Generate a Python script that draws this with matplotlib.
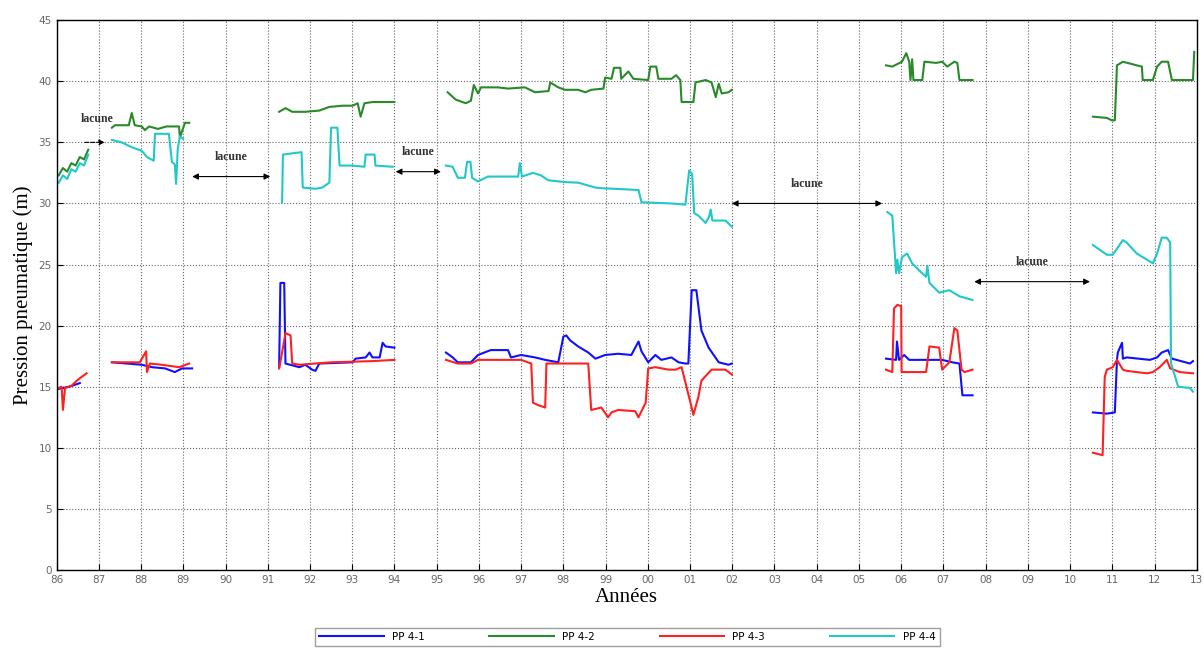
import numpy as np
import matplotlib
matplotlib.use("Agg")
import matplotlib.pyplot as plt

nan = np.nan

# PP 4-1 (blue)
pp41_t = [1986.00, 1986.30, 1986.55, nan,
          1987.31, 1988.02, 1988.26, 1988.57, 1988.80, 1988.97, 1989.21, nan,
          1991.27, 1991.30, 1991.39, 1991.42, 1991.75, 1991.89, 1992.05, 1992.13, 1992.22, 1993.01,
          1993.08, 1993.32, 1993.41, 1993.48, 1993.65, 1993.72, 1993.79, 1994.00, nan,
          1995.22, 1995.38, 1995.50, 1995.81, 1995.98, 1996.28, 1996.69, 1996.76, 1997.00, 1997.33,
          1997.57, 1997.88, 1998.00, 1998.07, 1998.16, 1998.35, 1998.59, 1998.76, 1998.99, 1999.30,
          1999.61, 1999.78, 1999.85, 2000.01, 2000.18, 2000.32, 2000.56, 2000.73, 2000.89, 2000.96,
          2001.04, 2001.15, 2001.27, 2001.44, 2001.68, 2001.91, 2001.99, nan,
          2005.64, 2005.88, 2005.90, 2005.95, 2006.07, 2006.19, 2006.97, 2007.21, 2007.38, 2007.45,
          2007.69, nan,
          2010.54, 2010.87, 2011.06, 2011.11, 2011.13, 2011.23, 2011.25, 2011.34, 2011.89, 2012.06,
          2012.17, 2012.32, 2012.41, 2012.84, 2012.91]
pp41_v = [14.8, 15.0, 15.3, nan,
          17.0, 16.8, 16.6, 16.5, 16.2, 16.5, 16.5, nan,
          16.6, 23.5, 23.5, 16.9, 16.6, 16.8, 16.4, 16.3, 16.9, 17.0,
          17.3, 17.4, 17.8, 17.4, 17.4, 18.6, 18.3, 18.2, nan,
          17.8, 17.4, 17.0, 17.0, 17.6, 18.0, 18.0, 17.4, 17.6, 17.4,
          17.2, 17.0, 19.1, 19.2, 18.8, 18.3, 17.8, 17.3, 17.6, 17.7,
          17.6, 18.7, 17.9, 17.0, 17.6, 17.2, 17.4, 17.0, 16.9, 16.9,
          22.9, 22.9, 19.6, 18.2, 17.0, 16.8, 16.9, nan,
          17.3, 17.2, 18.7, 17.2, 17.6, 17.2, 17.2, 17.0, 16.9, 14.3,
          14.3, nan,
          12.9, 12.8, 12.9, 17.2, 17.8, 18.6, 17.3, 17.4, 17.2, 17.4,
          17.8, 18.0, 17.3, 16.9, 17.1]

# PP 4-2 (green)
pp42_t = [1986.05, 1986.15, 1986.25, 1986.35, 1986.45, 1986.55, 1986.65, 1986.75, nan,
          1987.31, 1987.38, 1987.71, 1987.78, 1987.85, 1988.02, 1988.09, 1988.19, 1988.40, 1988.60,
          1988.90, 1988.92, 1989.04, 1989.14, nan,
          1991.27, 1991.42, 1991.58, 1991.89, 1992.22, 1992.46, 1992.77, 1993.01, 1993.13, 1993.20,
          1993.29, 1993.48, 1994.00, nan,
          1995.26, 1995.45, 1995.69, 1995.81, 1995.88, 1995.98, 1996.05, 1996.45, 1996.69, 1997.09,
          1997.33, 1997.65, 1997.69, 1997.88, 1998.04, 1998.35, 1998.52, 1998.66, 1998.95, 1998.99,
          1999.14, 1999.20, 1999.35, 1999.37, 1999.54, 1999.66, 2000.01, 2000.06, 2000.20, 2000.25,
          2000.56, 2000.67, 2000.77, 2000.80, 2001.08, 2001.13, 2001.37, 2001.51, 2001.61, 2001.68,
          2001.75, 2001.91, 2001.99, nan,
          2005.64, 2005.79, 2006.02, 2006.12, 2006.19, 2006.22, 2006.26, 2006.29, 2006.50, 2006.55,
          2006.83, 2006.97, 2007.09, 2007.26, 2007.33, 2007.38, 2007.69, nan,
          2010.54, 2010.87, 2010.99, 2011.06, 2011.11, 2011.25, 2011.58, 2011.70, 2011.72, 2011.96,
          2012.06, 2012.17, 2012.32, 2012.41, 2012.91, 2012.94]
pp42_v = [32.3, 32.9, 32.6, 33.3, 33.1, 33.8, 33.6, 34.4, nan,
          36.2, 36.4, 36.4, 37.4, 36.4, 36.3, 36.0, 36.3, 36.1, 36.3,
          36.3, 35.4, 36.6, 36.6, nan,
          37.5, 37.8, 37.5, 37.5, 37.6, 37.9, 38.0, 38.0, 38.2, 37.1,
          38.2, 38.3, 38.3, nan,
          39.1, 38.5, 38.2, 38.4, 39.7, 39.0, 39.5, 39.5, 39.4, 39.5,
          39.1, 39.2, 39.9, 39.5, 39.3, 39.3, 39.1, 39.3, 39.4, 40.3,
          40.2, 41.1, 41.1, 40.2, 40.8, 40.2, 40.1, 41.2, 41.2, 40.2,
          40.2, 40.5, 40.1, 38.3, 38.3, 39.9, 40.1, 39.9, 38.7, 39.8,
          39.0, 39.1, 39.3, nan,
          41.3, 41.2, 41.6, 42.3, 41.6, 40.1, 41.8, 40.1, 40.1, 41.6,
          41.5, 41.6, 41.2, 41.6, 41.5, 40.1, 40.1, nan,
          37.1, 37.0, 36.8, 36.8, 41.3, 41.6, 41.3, 41.2, 40.1, 40.1,
          41.2, 41.6, 41.6, 40.1, 40.1, 42.4]

# PP 4-3 (red)
pp43_t = [1986.05, 1986.12, 1986.15, 1986.20, 1986.36, 1986.48, 1986.59, 1986.71, nan,
          1987.31, 1987.97, 1988.12, 1988.14, 1988.21, 1988.49, 1988.90, 1989.14, nan,
          1991.27, 1991.34, 1991.42, 1991.54, 1991.58, 1991.75, 1992.50, 1993.50, 1994.00, nan,
          1995.22, 1995.50, 1995.81, 1995.98, 1997.00, 1997.24, 1997.28, 1997.40, 1997.57, 1997.60,
          1998.59, 1998.66, 1998.90, 1999.06, 1999.14, 1999.30, 1999.70, 1999.78, 1999.95, 2000.01,
          2000.18, 2000.49, 2000.66, 2000.80, 2001.01, 2001.08, 2001.20, 2001.27, 2001.51, 2001.84,
          2001.99, nan,
          2005.64, 2005.79, 2005.83, 2005.91, 2006.00, 2006.01, 2006.26, 2006.59, 2006.67, 2006.90,
          2006.97, 2007.14, 2007.26, 2007.33, 2007.43, 2007.50, 2007.69, nan,
          2010.54, 2010.77, 2010.82, 2010.87, 2011.01, 2011.11, 2011.25, 2011.34, 2011.82, 2011.96,
          2012.12, 2012.29, 2012.37, 2012.60, 2012.91]
pp43_v = [14.9, 15.0, 13.1, 14.9, 15.1, 15.5, 15.8, 16.1, nan,
          17.0, 17.0, 17.9, 16.2, 16.9, 16.8, 16.6, 16.9, nan,
          16.5, 17.8, 19.4, 19.2, 16.9, 16.8, 17.0, 17.1, 17.2, nan,
          17.2, 16.9, 16.9, 17.2, 17.2, 16.9, 13.7, 13.5, 13.3, 16.9,
          16.9, 13.1, 13.3, 12.5, 12.9, 13.1, 13.0, 12.5, 13.7, 16.5,
          16.6, 16.4, 16.4, 16.6, 13.7, 12.7, 14.2, 15.5, 16.4, 16.4,
          16.0, nan,
          16.4, 16.2, 21.4, 21.7, 21.6, 16.2, 16.2, 16.2, 18.3, 18.2,
          16.4, 17.0, 19.8, 19.6, 16.4, 16.2, 16.4, nan,
          9.6, 9.4, 15.8, 16.4, 16.6, 17.2, 16.4, 16.3, 16.1, 16.2,
          16.6, 17.2, 16.5, 16.2, 16.1]

# PP 4-4 (cyan)
pp44_t = [1986.05, 1986.15, 1986.25, 1986.35, 1986.45, 1986.55, 1986.65, 1986.75, nan,
          1987.31, 1987.54, 1987.78, 1988.02, 1988.14, 1988.30, 1988.33, 1988.66, 1988.73, 1988.80,
          1988.83, 1988.87, 1988.92, 1988.99, nan,
          1991.34, 1991.36, 1991.80, 1991.83, 1992.13, 1992.29, 1992.46, 1992.50, 1992.65, 1992.70,
          1993.01, 1993.29, 1993.32, 1993.53, 1993.55, 1993.96, nan,
          1995.22, 1995.38, 1995.50, 1995.67, 1995.72, 1995.80, 1995.84, 1995.98, 1996.21, 1996.93,
          1996.97, 1997.02, 1997.28, 1997.47, 1997.64, 1998.04, 1998.35, 1998.76, 1998.90, 1999.78,
          1999.85, 2000.56, 2000.89, 2000.98, 2001.05, 2001.10, 2001.20, 2001.37, 2001.45, 2001.49,
          2001.53, 2001.84, 2001.99, nan,
          2005.67, 2005.79, 2005.88, 2005.91, 2005.95, 2006.02, 2006.14, 2006.26, 2006.43, 2006.59,
          2006.62, 2006.67, 2006.90, 2007.14, 2007.38, 2007.69, nan,
          2010.54, 2010.87, 2011.01, 2011.25, 2011.34, 2011.58, 2011.82, 2011.96, 2012.06, 2012.17,
          2012.29, 2012.37, 2012.39, 2012.49, 2012.56, 2012.84, 2012.91]
pp44_v = [31.7, 32.3, 32.0, 32.8, 32.6, 33.3, 33.1, 34.0, nan,
          35.2, 35.0, 34.6, 34.3, 33.8, 33.5, 35.7, 35.7, 33.4, 33.2,
          31.6, 34.5, 35.5, 35.3, nan,
          30.1, 34.0, 34.2, 31.3, 31.2, 31.3, 31.7, 36.2, 36.2, 33.1,
          33.1, 33.0, 34.0, 34.0, 33.1, 33.0, nan,
          33.1, 33.0, 32.1, 32.1, 33.4, 33.4, 32.1, 31.8, 32.2, 32.2,
          33.3, 32.2, 32.5, 32.3, 31.9, 31.75, 31.7, 31.3, 31.25, 31.1,
          30.1, 30.0, 29.9, 32.7, 32.4, 29.2, 29.0, 28.4, 28.9, 29.5,
          28.6, 28.6, 28.1, nan,
          29.3, 29.0, 24.3, 25.4, 24.3, 25.6, 25.9, 25.1, 24.5, 24.0,
          24.9, 23.5, 22.7, 22.9, 22.4, 22.1, nan,
          26.6, 25.8, 25.8, 27.0, 26.8, 25.9, 25.4, 25.1, 25.9, 27.2,
          27.2, 26.8, 16.9, 15.8, 15.0, 14.9, 14.6]

# data gaps: (start, end, y of arrow)
gaps_start = [1989.21, 1994.03, 2001.99, 2007.73]
gaps_end = [1991.06, 1995.10, 2005.55, 2010.47]
gaps_y = [32.2, 32.6, 30.0, 23.6]

years = list(range(1986, 2014))
year_labels = [str(y)[2:] for y in years]

fig = plt.figure(figsize=(12.04, 6.5), dpi=100)
ax = fig.add_axes([0.047, 0.123, 0.947, 0.846])

ax.plot(pp41_t, pp41_v, color='#1010ff', lw=1.5, label='PP 4-1')
ax.plot(pp42_t, pp42_v, color='#2a8a2a', lw=1.5, label='PP 4-2')
ax.plot(pp43_t, pp43_v, color='#ff2020', lw=1.5, label='PP 4-3')
ax.plot(pp44_t, pp44_v, color='#20c8c8', lw=1.5, label='PP 4-4')

for x0, x1, yy in zip(gaps_start, gaps_end, gaps_y):
    ax.annotate('', xy=(x0, yy), xytext=(x1, yy),
                arrowprops=dict(arrowstyle='<|-|>', color='black', lw=0.8,
                                mutation_scale=9, shrinkA=0, shrinkB=0))
    ax.text((x0 + x1) / 2, yy + 1.1, 'lacune', ha='center', va='bottom',
            fontsize=8.5, fontweight='bold', family='Liberation Serif', color='#333333')

# short gap at the start
ax.annotate('', xy=(1987.14, 35.0), xytext=(1986.67, 35.0),
            arrowprops=dict(arrowstyle='-|>', color='black', lw=0.8, ls='--',
                            mutation_scale=8, shrinkA=0, shrinkB=0))
ax.text(1986.95, 36.4, 'lacune', ha='center', va='bottom',
        fontsize=8.5, fontweight='bold', family='Liberation Serif', color='#333333')

ax.set_xlim(1986, 2013)
ax.set_ylim(0, 45)
ax.set_xticks(years)
ax.set_xticklabels(year_labels)
ax.set_yticks(range(0, 46, 5))
ax.tick_params(direction='in', labelsize=7.5, labelcolor='#666666', length=4)
ax.grid(True, ls=':', color='#666666', lw=0.8)
for s in ax.spines.values():
    s.set_linewidth(1.0)

ax.set_xlabel('Années', family='Liberation Serif', fontsize=15, labelpad=2)
ax.set_ylabel('Pression pneumatique (m)', family='Liberation Serif', fontsize=15, labelpad=4)

fig.legend(loc='center', bbox_to_anchor=(0.521, 0.02), ncol=4, fontsize=7.5,
           frameon=True, fancybox=False, edgecolor='#888888', handlelength=6.2,
           columnspacing=6.2, borderpad=0.4)

fig.savefig('out.png', dpi=100)
